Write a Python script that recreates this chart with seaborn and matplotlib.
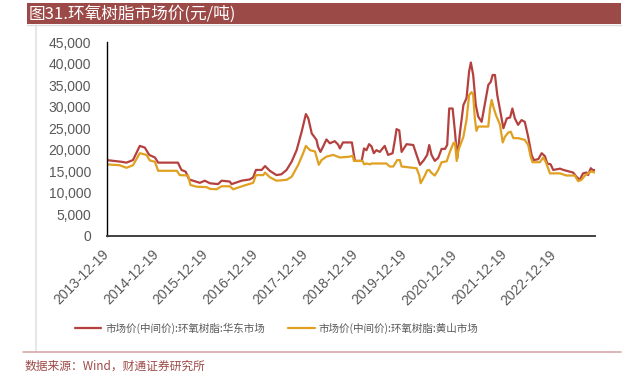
import numpy as np
import pandas as pd
import matplotlib
matplotlib.use("Agg")
import matplotlib.pyplot as plt
import matplotlib.ticker as mticker
from matplotlib.lines import Line2D
from matplotlib.patches import Rectangle
import seaborn as sns

# values (元/吨)
east_dates = ["2013-12-19", "2014-04-07", "2014-05-14", "2014-07-01", "2014-08-20", "2014-09-26",
              "2014-10-28", "2014-12-09", "2015-01-02", "2015-05-27", "2015-06-22", "2015-07-23",
              "2015-08-17", "2015-09-15", "2015-11-04", "2015-12-10", "2016-01-17", "2016-03-17",
              "2016-04-12", "2016-06-11", "2016-06-24", "2016-09-06", "2016-11-06", "2016-11-30",
              "2016-12-20", "2017-01-31", "2017-02-25", "2017-04-01", "2017-05-20", "2017-06-26",
              "2017-08-02", "2017-09-08", "2017-10-15", "2017-11-21", "2017-12-22", "2018-01-09",
              "2018-02-03", "2018-03-10", "2018-03-21", "2018-04-08", "2018-04-27", "2018-05-22",
              "2018-06-16", "2018-07-22", "2018-08-16", "2018-08-29", "2018-09-20", "2018-11-25",
              "2018-12-17", "2019-02-05", "2019-02-22", "2019-03-12", "2019-03-31", "2019-04-18",
              "2019-05-05", "2019-05-24", "2019-06-18", "2019-07-24", "2019-08-18", "2019-09-20",
              "2019-10-07", "2019-10-19", "2019-11-08", "2019-11-25", "2020-01-01", "2020-02-19",
              "2020-03-14", "2020-04-08", "2020-05-07", "2020-05-31", "2020-06-15", "2020-07-02",
              "2020-07-26", "2020-08-20", "2020-09-14", "2020-10-09", "2020-10-25", "2020-11-09",
              "2020-12-04", "2020-12-21", "2021-01-07", "2021-01-27", "2021-02-21", "2021-03-16",
              "2021-04-04", "2021-04-17", "2021-05-04", "2021-05-23", "2021-06-10", "2021-07-05",
              "2021-07-21", "2021-08-23", "2021-09-10", "2021-09-24", "2021-10-11", "2021-10-28",
              "2021-11-17", "2021-12-12", "2022-01-06", "2022-01-30", "2022-02-16", "2022-03-06",
              "2022-03-30", "2022-04-24", "2022-05-18", "2022-06-12", "2022-07-07", "2022-07-23",
              "2022-08-25", "2022-09-19", "2022-10-13", "2022-10-30", "2022-11-24", "2022-12-13",
              "2023-02-01", "2023-02-25", "2023-05-08", "2023-06-02", "2023-06-26", "2023-07-20",
              "2023-08-14", "2023-08-26", "2023-09-15", "2023-10-02", "2023-10-14"]
east_vals = [17600, 17200, 17000, 17600, 20900, 20500,
             18800, 18200, 17000, 17000, 15300, 14900,
             13100, 12800, 12300, 12800, 12200, 12000,
             12800, 12600, 12000, 12800, 13100, 13600,
             15300, 15300, 16200, 15100, 14100, 14300,
             15300, 17200, 19900, 24200, 28300, 27300,
             23800, 22300, 20700, 19500, 20700, 22400,
             21500, 22000, 21200, 20300, 21700, 21700,
             17400, 17400, 20300, 19900, 21300, 20800,
             19200, 19900, 19500, 20900, 18800, 19200,
             22300, 24800, 24500, 19500, 21300, 21100,
             18800, 16500, 17600, 18800, 21100, 18800,
             17400, 18100, 20200, 20200, 21100, 29600,
             29600, 24200, 18000, 24000, 30400, 32000,
             38200, 40300, 37400, 30400, 27700, 26500,
             29300, 35100, 35800, 37400, 37400, 32700,
             29300, 25000, 27300, 27500, 29600, 27300,
             25800, 26900, 26500, 23000, 18800, 17600,
             17800, 19200, 18500, 16800, 16600, 15300,
             15600, 15300, 14700, 13700, 13000, 14500,
             14700, 14100, 15700, 15200, 15300]

hs_dates = ["2013-12-19", "2014-03-25", "2014-05-14", "2014-07-01", "2014-08-20", "2014-10-08",
            "2014-11-02", "2014-12-09", "2015-01-02", "2015-05-20", "2015-06-09", "2015-08-10",
            "2015-08-27", "2015-10-11", "2015-12-23", "2016-01-17", "2016-03-05", "2016-04-12",
            "2016-06-11", "2016-07-06", "2016-09-18", "2016-11-30", "2016-12-20", "2017-02-12",
            "2017-02-25", "2017-04-01", "2017-05-20", "2017-08-02", "2017-09-08", "2017-10-27",
            "2017-12-02", "2017-12-22", "2018-01-21", "2018-02-27", "2018-03-10", "2018-03-27",
            "2018-04-16", "2018-05-22", "2018-07-10", "2018-08-29", "2018-11-10", "2018-12-01",
            "2018-12-10", "2019-02-12", "2019-02-22", "2019-03-12", "2019-04-06", "2019-04-18",
            "2019-08-06", "2019-08-30", "2019-09-25", "2019-10-24", "2019-11-12", "2019-11-25",
            "2020-03-14", "2020-04-03", "2020-04-13", "2020-05-14", "2020-05-31", "2020-06-15",
            "2020-07-02", "2020-07-26", "2020-08-20", "2020-09-14", "2020-10-21", "2020-11-14",
            "2020-12-09", "2020-12-21", "2021-01-03", "2021-01-15", "2021-02-21", "2021-03-16",
            "2021-04-04", "2021-04-22", "2021-05-04", "2021-05-16", "2021-05-28", "2021-06-10",
            "2021-08-23", "2021-09-05", "2021-09-17", "2021-09-29", "2021-10-18", "2021-11-17",
            "2021-12-07", "2021-12-23", "2022-01-17", "2022-02-04", "2022-02-23", "2022-03-30",
            "2022-05-18", "2022-06-12", "2022-06-30", "2022-07-14", "2022-09-06", "2022-09-30",
            "2022-10-20", "2022-11-19", "2023-02-01", "2023-03-20", "2023-05-20", "2023-06-14",
            "2023-07-09", "2023-08-03", "2023-08-26", "2023-09-21", "2023-10-02", "2023-10-14"]
hs_vals = [16600, 16400, 15800, 16400, 19200, 18800,
           17500, 17200, 15100, 15100, 14100, 14000,
           11800, 11400, 11300, 10900, 10800, 11500,
           11500, 10800, 11600, 12300, 14100, 14100,
           14700, 13600, 12800, 13000, 13700, 16500,
           19200, 20900, 19900, 19600, 18400, 16500,
           17600, 18400, 18800, 18200, 18400, 18600,
           17400, 17400, 16600, 16800, 16600, 16800,
           16800, 16100, 16100, 17600, 17600, 16100,
           15700, 14000, 12200, 14000, 15200, 15300,
           14600, 14000, 15300, 17100, 17300, 19500,
           21500, 21700, 17400, 19900, 23000, 27000,
           32700, 33400, 32800, 27300, 24400, 25400,
           25400, 29600, 31600, 30000, 28100, 25800,
           21700, 23000, 24000, 24200, 22700, 22700,
           22300, 21100, 18400, 17100, 17100, 18200,
           17100, 14500, 14500, 14000, 14000, 12700,
           13000, 14000, 14500, 15000, 14800, 14700]

tick_dates = ["2013-12-19", "2014-12-19", "2015-12-19", "2016-12-19", "2017-12-19",
              "2018-12-19", "2019-12-19", "2020-12-19", "2021-12-19", "2022-12-19"]

east_label = "市场价(中间价):环氧树脂:华东市场"
hs_label = "市场价(中间价):环氧树脂:黄山市场"

RED = "#B5413F"
GOLD = "#E0A021"
BAR = "#9C4A47"
GREY = "#595959"

sns.set_style("white")
plt.rcParams["font.family"] = ["Liberation Sans", "Noto Sans CJK SC", "DejaVu Sans"]

east = pd.DataFrame({"date": pd.to_datetime(east_dates), "price": east_vals})
hs = pd.DataFrame({"date": pd.to_datetime(hs_dates), "price": hs_vals})

fig = plt.figure(figsize=(6.27, 3.78), dpi=100)
ax = fig.add_axes([0.170, 0.3765, 0.779, 0.5115])

sns.lineplot(data=east, x="date", y="price", ax=ax, color=RED, lw=1.6, label=east_label)
sns.lineplot(data=hs, x="date", y="price", ax=ax, color=GOLD, lw=1.6, label=hs_label)

ax.set_ylim(0, 45000)
ax.set_yticks(np.arange(0, 45001, 5000))
ax.yaxis.set_major_formatter(mticker.FuncFormatter(lambda v, p: f"{int(v):,}"))
ax.set_xlim(pd.Timestamp("2013-12-19"), pd.Timestamp("2023-10-16"))
ax.set_xticks(pd.to_datetime(tick_dates))
ax.set_xticklabels(tick_dates, rotation=45, ha="right", va="center", rotation_mode="anchor")
ax.set_xlabel("")
ax.set_ylabel("")

for s in ["top", "right"]:
    ax.spines[s].set_visible(False)
ax.spines["left"].set_color("black")
ax.spines["left"].set_linewidth(1.0)
ax.spines["bottom"].set_color("#404040")
ax.spines["bottom"].set_linewidth(1.4)
ax.tick_params(axis="both", direction="out", length=4, width=1, colors="black",
               labelcolor=GREY, labelsize=10)
ax.tick_params(axis="y", pad=7)
ax.tick_params(axis="x", pad=8)

ax.legend(loc="center", bbox_to_anchor=(0.441, 0.132), bbox_transform=fig.transFigure,
          ncol=2, frameon=False, handlelength=2.5, handletextpad=0.4,
          columnspacing=2.2, labelcolor=GREY,
          prop={"family": ["Noto Sans CJK SC"], "size": 7.6})

# title bar and frame decorations
W, H = 627, 378
fig.patches.append(Rectangle((27 / W, 1 - 24 / H), 594 / W, 21 / H, transform=fig.transFigure,
                             facecolor=BAR, edgecolor="none", zorder=0))
fig.text(29 / W, 1 - 14 / H, "图31.环氧树脂市场价(元/吨)", color="white", fontsize=12,
         va="center", ha="left", family=["Noto Sans CJK SC"])
fig.lines.append(Line2D([27 / W, 621 / W], [1 - 25 / H, 1 - 25 / H], transform=fig.transFigure,
                        color="#DDDDDD", lw=1))
fig.lines.append(Line2D([36 / W, 36 / W], [1 - 25 / H, 1 - 352 / H], transform=fig.transFigure,
                        color="#E3E3E3", lw=1.2))
fig.lines.append(Line2D([23 / W, 621 / W], [1 - 352 / H, 1 - 352 / H], transform=fig.transFigure,
                        color="#D6A9A7", lw=1.2))
fig.text(25 / W, 1 - 366 / H, "数据来源：Wind，财通证券研究所", color=BAR, fontsize=8.5,
         va="center", ha="left", family=["Noto Sans CJK SC"])

fig.savefig("out.png", dpi=100)
